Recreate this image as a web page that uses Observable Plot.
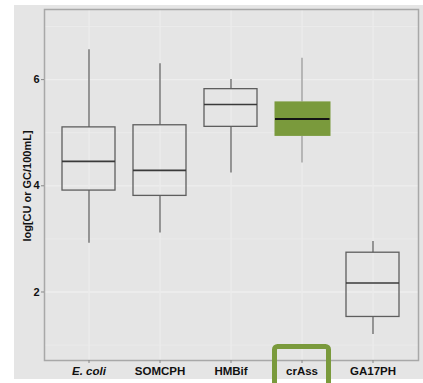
<!DOCTYPE html>
<html>
<head>
<meta charset="utf-8">
<script src="https://cdn.jsdelivr.net/npm/d3@7"></script>
<script src="https://cdn.jsdelivr.net/npm/@observablehq/plot@0.6"></script>
<style>
  html, body { margin: 0; padding: 0; background: #fff; width: 423px; height: 383px; overflow: hidden; }
  #panel { position: absolute; left: 14px; top: 5px; width: 409px; height: 374px; background: #e5e5e5; overflow: visible; }
  #panel svg { overflow: visible; display: block; }
</style>
</head>
<body>
<div id="panel"></div>
<script>
const categories = ["E. coli", "SOMCPH", "HMBif", "crAss", "GA17PH"];
const whiskerLow = [2.92, 3.11, 4.24, 4.43, 1.20];
const q1 = [3.91, 3.81, 5.11, 4.93, 1.53];
const median = [4.46, 4.29, 5.53, 5.26, 2.17];
const q3 = [5.10, 5.14, 5.82, 5.58, 2.74];
const whiskerHigh = [6.56, 6.30, 6.00, 6.40, 2.95];
const highlighted = "crAss";
const yTicks = [2, 4, 6];
const yMinorTicks = [1, 3, 5, 7];
const yLabel = "log[CU or GC/100mL]";

const data = categories.map((c, i) => ({
  cat: c, low: whiskerLow[i], q1: q1[i], med: median[i], q3: q3[i], high: whiskerHigh[i],
  hl: c === highlighted
}));
const plain = data.filter(d => !d.hl);
const hl = data.filter(d => d.hl);

const W = 409, H = 374, mL = 30, mR = 5, mT = 4, mB = 19;
const green = "#7a9a3c";

const plot = Plot.plot({
  width: W, height: H,
  marginLeft: mL, marginRight: mR, marginTop: mT, marginBottom: mB,
  style: { fontFamily: "'Liberation Sans', Arial, sans-serif", fontSize: "11px", fontWeight: "bold", background: "transparent", color: "#111", overflow: "visible" },
  x: { type: "band", domain: categories, paddingInner: 0.25, paddingOuter: 0.225, label: null },
  y: { domain: [0.71, 7.32], label: null },
  marks: [
    Plot.gridY(yMinorTicks, { stroke: "#ececec", strokeOpacity: 1, strokeWidth: 0.8 }),
    Plot.gridY(yTicks, { stroke: "#eeeeee", strokeOpacity: 1, strokeWidth: 1.3 }),
    Plot.gridX(categories, { stroke: "#ececec", strokeOpacity: 1, strokeWidth: 1.2 }),
    Plot.ruleX(data, { x: "cat", y1: "low", y2: "q1", stroke: d => d.hl ? "#9a9a9a" : "#666", strokeWidth: 1.3 }),
    Plot.ruleX(data, { x: "cat", y1: "q3", y2: "high", stroke: d => d.hl ? "#9a9a9a" : "#666", strokeWidth: 1.3 }),
    Plot.barY(plain, { x: "cat", y1: "q1", y2: "q3", fill: "none", stroke: "#5e5e5e", strokeWidth: 1.3 }),
    Plot.barY(hl, { x: "cat", y1: "q1", y2: "q3", fill: green, insetLeft: -0.5, insetRight: -2.5 }),
    Plot.tickY(plain, { x: "cat", y: "med", stroke: "#3a3a3a", strokeWidth: 1.6 }),
    Plot.tickY(hl, { x: "cat", y: "med", stroke: "#141414", strokeWidth: 2, insetRight: -1.5 }),
    Plot.frame({ stroke: "#a8a8a8", strokeWidth: 1.5 }),
    Plot.axisY(yTicks, { tickSize: 3, tickPadding: 2, stroke: "#888", fill: "#111", fontSize: 11, tickFormat: d3.format("d"), label: null }),
    Plot.axisX({ tickSize: 3, tickPadding: 3, stroke: "#888", fill: "#111", fontSize: 11.5, label: null }),
    Plot.text([yLabel], { frameAnchor: "left", textAnchor: "middle", dx: -17.5, dy: 1, rotate: -90, fontSize: 11, fontWeight: "bold", fill: "#111", text: d => d })
  ]
});

document.getElementById("panel").appendChild(plot);

// italic species name
d3.select(plot).selectAll("text").filter(function() { return this.textContent === "E. coli"; }).attr("font-style", "italic");

// highlight box around the highlighted category label, positioned from the x scale
const xs = plot.scale("x");
const bx = xs.apply(highlighted);
const bw = xs.bandwidth;
d3.select(plot).append("rect")
  .attr("x", bx - 0.5)
  .attr("y", H - mB - 13.5)
  .attr("width", bw + 1)
  .attr("height", 60)
  .attr("rx", 3)
  .attr("fill", "none")
  .attr("stroke", green)
  .attr("stroke-width", 5);
</script>
</body>
</html>
